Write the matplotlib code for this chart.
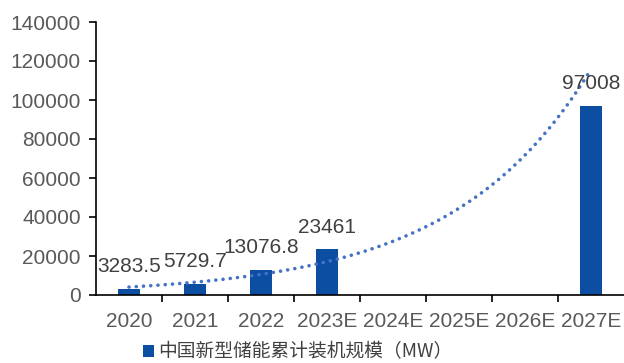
import numpy as np
import matplotlib
matplotlib.use("Agg")
import matplotlib.pyplot as plt
from matplotlib.patches import Patch

categories = ["2020", "2021", "2022", "2023E", "2024E", "2025E", "2026E", "2027E"]
capacity = [3283.5, 5729.7, 13076.8, 23461, None, None, None, 97008]
value_labels = ["3283.5", "5729.7", "13076.8", "23461", "", "", "", "97008"]
y_ticks = [0, 20000, 40000, 60000, 80000, 100000, 120000, 140000]
legend_label = "中国新型储能累计装机规模（MW）"

bar_color = "#0B4EA2"
trend_color = "#4472C4"
text_color = "#404040"
tick_color = "#595959"

plt.rcParams["font.family"] = ["Liberation Sans", "DejaVu Sans"]

fig = plt.figure(figsize=(6.24, 3.63), dpi=100)
ax = fig.add_axes([96 / 624, 1 - 295 / 363, 528 / 624, 273 / 363])

x = np.arange(len(categories))
present = [i for i, v in enumerate(capacity) if v is not None]
vals = np.array([capacity[i] for i in present], dtype=float)
ax.bar(present, vals, width=0.34, color=bar_color, zorder=2)

for i in present:
    ax.annotate(value_labels[i], (i, capacity[i]), xytext=(0, 9),
                textcoords="offset points", ha="center", va="bottom",
                fontsize=15, color=text_color, zorder=4)

# exponential trendline fitted to the available points (categories numbered from 1)
xs = np.array(present, dtype=float) + 1
b, a = np.polyfit(xs, np.log(vals), 1)
xt = np.linspace(1, len(categories), 300)
ax.plot(xt - 1, np.exp(a + b * xt), color=trend_color, lw=2.6,
        linestyle=(0, (0.01, 2.0)), dash_capstyle="round", zorder=3)

ax.set_xlim(-0.5, len(categories) - 0.5)
ax.set_ylim(0, 140000)
ax.set_yticks(y_ticks)
ax.set_yticklabels([str(v) for v in y_ticks])
ax.set_xticks(x)
ax.set_xticklabels(categories)
ax.set_xticks(np.arange(0.5, len(categories) - 0.5, 1), minor=True)
ax.tick_params(axis="x", which="major", length=0, pad=12, labelsize=15, labelcolor=tick_color)
ax.tick_params(axis="x", which="minor", direction="out", length=5, width=1.2, color="black")
ax.tick_params(axis="y", direction="out", length=5, width=1.2, pad=6, labelsize=15,
               labelcolor=tick_color, color="black")

for side in ["top", "right"]:
    ax.spines[side].set_visible(False)
for side in ["left", "bottom"]:
    ax.spines[side].set_linewidth(1.2)
    ax.spines[side].set_color("black")

handle = Patch(facecolor=bar_color, edgecolor="none")
fig.legend(handles=[handle], labels=[legend_label], loc="center",
           bbox_to_anchor=(298 / 624, 1 - 352 / 363), frameon=False,
           handlelength=0.55, handleheight=0.55, handletextpad=0.25,
           prop={"family": ["Noto Sans CJK SC", "DejaVu Sans"], "size": 13.5},
           labelcolor=text_color)

fig.savefig("out.png", dpi=100)
